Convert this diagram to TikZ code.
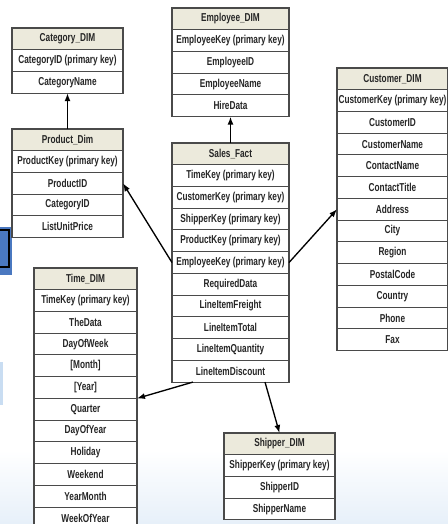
\documentclass[tikz,border=0pt]{standalone}
\usepackage{fontspec}
\setmainfont{Liberation Sans}[FakeStretch=0.72]
\usetikzlibrary{arrows.meta, positioning}
\definecolor{headfill}{HTML}{ECEADC}
\definecolor{rulegray}{HTML}{4A4A4A}
\definecolor{slideblue}{HTML}{4A78C0}
\definecolor{paleblue}{HTML}{C9DDF2}

\begin{document}
\begin{tikzpicture}[x=0.75pt, y=-0.75pt, every node/.style={draw=rulegray, line width=0.8pt, fill=white, minimum height=16.3pt, inner sep=0pt, outer sep=0pt, text=black!85, font=\bfseries\fontsize{8.6}{9}\selectfont}, head/.style={fill=headfill}, arr/.style={-{Latex[length=6pt,width=4.5pt]}, line width=1pt}]
\useasboundingbox (0,0) rectangle (448,524);
% slide background
\fill[top color=white, bottom color=paleblue!45] (0,450) rectangle (448,524);
\fill[slideblue] (0,227) rectangle (12,275);
\draw[line width=1.2pt] (-2,230) -- (9,230) -- (9,267) -- (-2,267);
\fill[paleblue] (0,362) rectangle (3,405);
% dimension and fact tables
\node[head, minimum width=83.25pt, anchor=north west] (category-0) at (12,28) {Category\_DIM};
\foreach \t [count=\i] in {CategoryID (primary key), CategoryName} {
  \pgfmathtruncatemacro\j{\i-1}
  \node[minimum width=83.25pt, below=0pt of category-\j] (category-\i) {\t};
}
\node[head, minimum width=83.25pt, anchor=north west] (product-0) at (12,129) {Product\_Dim};
\foreach \t [count=\i] in {ProductKey (primary key), ProductID, CategoryID, ListUnitPrice} {
  \pgfmathtruncatemacro\j{\i-1}
  \node[minimum width=83.25pt, below=0pt of product-\j] (product-\i) {\t};
}
\node[head, minimum width=87.75pt, anchor=north west] (employee-0) at (172,8) {Employee\_DIM};
\foreach \t [count=\i] in {EmployeeKey (primary key), EmployeeID, EmployeeName, HireData} {
  \pgfmathtruncatemacro\j{\i-1}
  \node[minimum width=87.75pt, below=0pt of employee-\j] (employee-\i) {\t};
}
\node[head, minimum width=87.75pt, anchor=north west] (sales-0) at (172,143) {Sales\_Fact};
\foreach \t [count=\i] in {TimeKey (primary key), CustomerKey (primary key), ShipperKey (primary key), ProductKey (primary key), EmployeeKey (primary key), RequiredData, LineItemFreight, LineItemTotal, LineItemQuantity, LineItemDiscount} {
  \pgfmathtruncatemacro\j{\i-1}
  \node[minimum width=87.75pt, below=0pt of sales-\j] (sales-\i) {\t};
}
\node[head, minimum width=83.25pt, anchor=north west] (customer-0) at (337,68) {Customer\_DIM};
\foreach \t [count=\i] in {CustomerKey (primary key), CustomerID, CustomerName, ContactName, ContactTitle, Address, City, Region, PostalCode, Country, Phone, Fax} {
  \pgfmathtruncatemacro\j{\i-1}
  \node[minimum width=83.25pt, below=0pt of customer-\j] (customer-\i) {\t};
}
\node[head, minimum width=77.25pt, anchor=north west] (time-0) at (34,268) {Time\_DIM};
\foreach \t [count=\i] in {TimeKey (primary key), TheData, DayOfWeek, {[Month]}, {[Year]}, Quarter, DayOfYear, Holiday, Weekend, YearMonth, WeekOfYear} {
  \pgfmathtruncatemacro\j{\i-1}
  \node[minimum width=77.25pt, below=0pt of time-\j] (time-\i) {\t};
}
\node[head, minimum width=83.25pt, anchor=north west] (shipper-0) at (224,433) {Shipper\_DIM};
\foreach \t [count=\i] in {ShipperKey (primary key), ShipperID, ShipperName} {
  \pgfmathtruncatemacro\j{\i-1}
  \node[minimum width=83.25pt, below=0pt of shipper-\j] (shipper-\i) {\t};
}
% links
\draw[arr] (product-0.north) -- (category-2.south);
\draw[arr] (sales-0.north) -- (employee-4.south);
\draw[arr] (sales-5.west) -- (product-2.east);
\draw[arr] (sales-5.east) -- (customer-6.west);
\draw[arr] ([xshift=15.75pt]sales-10.south west) -- (time-5.south east);
\draw[arr] ([xshift=-18pt]sales-10.south east) -- (shipper-0.north);
\end{tikzpicture}
\end{document}
